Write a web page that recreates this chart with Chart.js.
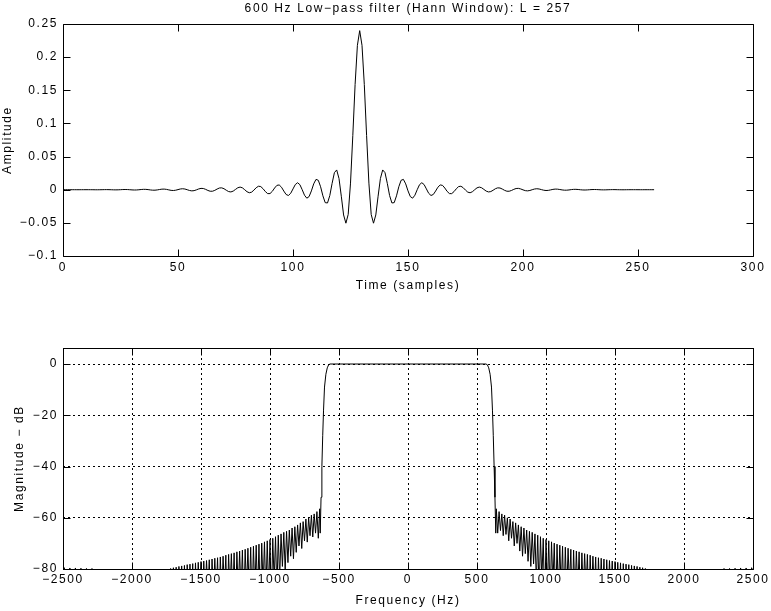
<!DOCTYPE html>
<html>
<head>
<meta charset="utf-8">
<script src="https://cdn.jsdelivr.net/npm/chart.js@4.4.1/dist/chart.umd.min.js"></script>
<style>
html,body{margin:0;padding:0;background:#fff;}
#wrap{position:relative;width:771px;height:611px;overflow:hidden;background:#fff;}
#c1{position:absolute;left:0;top:0;}
#c2{position:absolute;left:0;top:300px;}
</style>
</head>
<body>
<div id="wrap">
<canvas id="c1" width="771" height="300"></canvas>
<canvas id="c2" width="771" height="311"></canvas>
</div>
<script>
// ---------------- data ----------------
const titleText = '600 Hz Low\u2212pass filter (Hann Window): L = 257';
const firstSample = 0;
const impulseAmplitude = [
  0,
  0, 0, 0, 0, 0, -0.00001, -0.00001, 0,
  0.00002, 0.00004, 0.00004, 0.00001, -0.00003, -0.00008, -0.00008, -0.00004, 0.00004, 0.00012,
  0.00014, 0.00008, -0.00005, -0.00018, -0.00022, -0.00015, 0.00003, 0.00023, 0.00032, 0.00024,
  0, -0.00028, -0.00044, -0.00037, -0.00006, 0.00032, 0.00057, 0.00052, 0.00016, -0.00034,
  -0.0007, -0.00071, -0.00031, 0.00032, 0.00084, 0.00093, 0.0005, -0.00028, -0.00098, -0.0012,
  -0.00075, 0.00017, 0.00108, 0.00147, 0.00105, 0, -0.00115, -0.00174, -0.00141, -0.00024,
  0.00117, 0.00203, 0.00182, 0.00056, -0.00112, -0.00231, -0.00228, -0.00097, 0.001, 0.00257,
  0.0028, 0.00148, -0.00079, -0.00279, -0.00337, -0.00209, 0.00046, 0.00296, 0.00397, 0.00283,
  0, -0.00304, -0.0046, -0.00369, -0.00062, 0.00303, 0.00525, 0.00469, 0.00143, -0.00288,
  -0.00591, -0.00584, -0.00247, 0.00257, 0.00656, 0.00717, 0.00378, -0.00203, -0.00719, -0.00872,
  -0.00544, 0.00121, 0.00778, 0.01054, 0.00757, 0, -0.00832, -0.01276, -0.01037, -0.00178,
  0.00881, 0.01559, 0.01422, 0.00446, -0.00923, -0.01952, -0.01998, -0.00879, 0.00956, 0.02572,
  0.02983, 0.01684, -0.0098, -0.03811, -0.0505, -0.03728, 0.00995, 0.0816, 0.1587, 0.2178,
  0.24,
  0.2178, 0.1587, 0.0816, 0.00995, -0.03728, -0.0505, -0.03811, -0.0098, 0.01684, 0.02983,
  0.02572, 0.00956, -0.00879, -0.01998, -0.01952, -0.00923, 0.00446, 0.01422, 0.01559, 0.00881,
  -0.00178, -0.01037, -0.01276, -0.00832, 0, 0.00757, 0.01054, 0.00778, 0.00121, -0.00544,
  -0.00872, -0.00719, -0.00203, 0.00378, 0.00717, 0.00656, 0.00257, -0.00247, -0.00584, -0.00591,
  -0.00288, 0.00143, 0.00469, 0.00525, 0.00303, -0.00062, -0.00369, -0.0046, -0.00304, 0,
  0.00283, 0.00397, 0.00296, 0.00046, -0.00209, -0.00337, -0.00279, -0.00079, 0.00148, 0.0028,
  0.00257, 0.001, -0.00097, -0.00228, -0.00231, -0.00112, 0.00056, 0.00182, 0.00203, 0.00117,
  -0.00024, -0.00141, -0.00174, -0.00115, 0, 0.00105, 0.00147, 0.00108, 0.00017, -0.00075,
  -0.0012, -0.00098, -0.00028, 0.0005, 0.00093, 0.00084, 0.00032, -0.00031, -0.00071, -0.0007,
  -0.00034, 0.00016, 0.00052, 0.00057, 0.00032, -0.00006, -0.00037, -0.00044, -0.00028, 0,
  0.00024, 0.00032, 0.00023, 0.00003, -0.00015, -0.00022, -0.00018, -0.00005, 0.00008, 0.00014,
  0.00012, 0.00004, -0.00004, -0.00008, -0.00008, -0.00003, 0.00001, 0.00004, 0.00004, 0.00002,
  0, -0.00001, -0.00001, 0, 0, 0, 0, 0
];
const timeTicks = [0, 50, 100, 150, 200, 250, 300];
const timeTickLabels = ['0', '50', '100', '150', '200', '250', '300'];
const ampTicks = [-0.1, -0.05, 0, 0.05, 0.1, 0.15, 0.2, 0.25];
const ampTickLabels = ['\u22120.1', '\u22120.05', '0', '0.05', '0.1', '0.15', '0.2', '0.25'];

const freqHz = [
  -2500, -2490, -2480, -2450, -2440, -2410, -2400, -2370, -2360, -2330, -2320, -2290, -2280, -2100, -1900, -1780, -1760, -1750,
  -1740, -1730, -1720, -1710, -1700, -1690, -1680, -1670, -1660, -1650,
  -1640, -1630, -1620, -1610, -1600, -1590, -1580, -1570, -1560, -1550,
  -1540, -1530, -1520, -1510, -1500, -1490, -1480, -1470, -1460, -1450,
  -1440, -1430, -1420, -1410, -1400, -1390, -1380, -1370, -1360, -1350,
  -1340, -1330, -1320, -1310, -1300, -1290, -1280, -1270, -1260, -1250,
  -1240, -1230, -1220, -1210, -1200, -1190, -1180, -1170, -1160, -1150,
  -1140, -1130, -1120, -1110, -1100, -1090, -1080, -1070, -1060, -1050,
  -1040, -1030, -1020, -1010, -1000, -990, -980, -970, -960, -950,
  -940, -930, -920, -910, -900, -890, -880, -870, -860, -850,
  -840, -830, -820, -810, -800, -790, -780, -770, -760, -750,
  -740, -730, -720, -710, -700, -690, -680, -670, -660, -650,
  -640,
  -636, -630, -624, -618, -612, -605, -595, -585, -575, -565,
  565,
  575, 585, 595, 605, 612, 618, 624, 630, 636,
  640, 650, 660, 670, 680, 690, 700, 710, 720, 730,
  740, 750, 760, 770, 780, 790, 800, 810, 820, 830,
  840, 850, 860, 870, 880, 890, 900, 910, 920, 930,
  940, 950, 960, 970, 980, 990, 1000, 1010, 1020, 1030,
  1040, 1050, 1060, 1070, 1080, 1090, 1100, 1110, 1120, 1130,
  1140, 1150, 1160, 1170, 1180, 1190, 1200, 1210, 1220, 1230,
  1240, 1250, 1260, 1270, 1280, 1290, 1300, 1310, 1320, 1330,
  1340, 1350, 1360, 1370, 1380, 1390, 1400, 1410, 1420, 1430,
  1440, 1450, 1460, 1470, 1480, 1490, 1500, 1510, 1520, 1530,
  1540, 1550, 1560, 1570, 1580, 1590, 1600, 1610, 1620, 1630,
  1640, 1650, 1660, 1670, 1680, 1690, 1700, 1710, 1720, 1730,
  1740,
  1750, 1760, 1780, 1900, 2100, 2280, 2290, 2320, 2330, 2360, 2370, 2400, 2410, 2440, 2450, 2480, 2490, 2500
];
const magDb = [
  -81, -79.5, -92, -79.6, -93, -79.6, -94, -79.7, -95, -79.8, -96, -79.8, -98, -104, -100, -93, -80.5, -99,
  -80.2, -98, -79.8, -93, -79.5, -92, -79.3, -97, -79, -90,
  -78.8, -93, -78.6, -96, -78.3, -91, -78.1, -90, -77.9, -97,
  -77.6, -91, -77.4, -89, -77.1, -96, -76.9, -90, -76.7, -88,
  -76.4, -97, -76.1, -90, -75.8, -89, -75.6, -96, -75.3, -91,
  -75, -88, -74.6, -97, -74.3, -89, -74, -91, -73.7, -96,
  -73.3, -89, -73, -90, -72.6, -96, -72.3, -88, -71.9, -91,
  -71.5, -94, -71.1, -89, -70.7, -91, -70.3, -95, -69.9, -87,
  -69.4, -91, -69, -89, -68.5, -94, -68, -85, -67.4, -89,
  -66.8, -84, -66.3, -79, -65.7, -80.5, -65.3, -77.5, -64.8, -75,
  -64, -76, -63.5, -73.5, -62.8, -71, -62, -72, -61.5, -69,
  -60.5, -69.5, -60, -67, -59, -67.5, -58.5, -66, -57.6, -68,
  -56.5,
  -66, -52, -40, -28, -18, -9, -4, -1.5, -0.3, 0,
  0,
  -0.3, -1.5, -4, -9, -18, -28, -40, -52, -66,
  -56.5, -66, -57.6, -65, -58.5, -67, -59, -66.5, -60, -69,
  -60.5, -68, -61.5, -71, -62, -70, -62.8, -73, -63.5, -75,
  -64, -74, -64.8, -77, -65.3, -79, -65.7, -78, -66.3, -85,
  -66.8, -90, -67.4, -84, -68, -95, -68.5, -88, -69, -92,
  -69.4, -86, -69.9, -96, -70.3, -90, -70.7, -88, -71.1, -95,
  -71.5, -90, -71.9, -87, -72.3, -97, -72.6, -91, -73, -88,
  -73.3, -95, -73.7, -90, -74, -88, -74.3, -96, -74.6, -90,
  -75, -89, -75.3, -97, -75.6, -91, -75.8, -89, -76.1, -96,
  -76.4, -90, -76.7, -89, -76.9, -97, -77.1, -91, -77.4, -90,
  -77.6, -96, -77.9, -92, -78.1, -90, -78.3, -97, -78.6, -92,
  -78.8, -91, -79, -98, -79.3, -93, -79.5, -92, -79.8, -99,
  -80.2,
  -99, -80.5, -93, -100, -104, -98, -79.8, -96, -79.8, -95, -79.7, -94, -79.6, -93, -79.6, -92, -79.5, -81
];
const freqTicks = [-2500, -2000, -1500, -1000, -500, 0, 500, 1000, 1500, 2000, 2500];
const freqTickLabels = ['\u22122500', '\u22122000', '\u22121500', '\u22121000', '\u2212500', '0', '500', '1000', '1500', '2000', '2500'];
const dbTicks = [-80, -60, -40, -20, 0];
const dbTickLabels = ['\u221280', '\u221260', '\u221240', '\u221220', '0'];

// ---------------- style ----------------
const FONT = {family: "'Liberation Sans', Arial, Helvetica, sans-serif", size: 12, weight: 'normal'};
const LETTER_SPACING = '1.6px';
Chart.defaults.color = '#000';
Chart.defaults.font.family = FONT.family;
Chart.defaults.font.size = FONT.size;

const matlabFrame = {
  id: 'matlabFrame',
  beforeDraw(chart) { chart.ctx.letterSpacing = LETTER_SPACING; },
  afterDatasetsDraw(chart) {
    const {ctx, chartArea: a, scales: {x, y}} = chart;
    const L = Math.floor(a.left) + 0.5, R = Math.floor(a.right) + 0.5;
    const T = Math.floor(a.top) + 0.5, B = Math.floor(a.bottom) + 0.5;
    const tl = 7;
    ctx.save();
    ctx.setLineDash([]);
    ctx.strokeStyle = '#000';
    ctx.lineWidth = 1;
    ctx.beginPath();
    ctx.rect(L, T, R - L, B - T);
    x.ticks.forEach(t => {
      const px = Math.round(x.getPixelForValue(t.value)) + 0.5;
      ctx.moveTo(px, B); ctx.lineTo(px, B - tl);
      ctx.moveTo(px, T); ctx.lineTo(px, T + tl);
    });
    y.ticks.forEach(t => {
      const py = Math.round(y.getPixelForValue(t.value)) + 0.5;
      ctx.moveTo(L, py); ctx.lineTo(L + tl, py);
      ctx.moveTo(R, py); ctx.lineTo(R - tl, py);
    });
    ctx.stroke();
    ctx.restore();
  }
};

const lineStyle = {borderColor: '#000', borderWidth: 1, pointRadius: 0, tension: 0, borderJoinStyle: 'round', fill: false};

// ---------------- top chart: impulse response ----------------
new Chart(document.getElementById('c1'), {
  type: 'line',
  data: {
    datasets: [Object.assign({
      data: impulseAmplitude.map((v, i) => ({x: firstSample + i, y: v}))
    }, lineStyle)]
  },
  options: {
    responsive: false, animation: false, events: [],
    layout: {padding: {left: 0, right: 18, top: 0, bottom: 0}},
    plugins: {legend: {display: false}, tooltip: {enabled: false}, title: {display: false}},
    scales: {
      x: {
        type: 'linear', min: 0, max: 300,
        afterBuildTicks: s => { s.ticks = timeTicks.map(v => ({value: v})); },
        afterFit: s => { s.height = 44; },
        grid: {display: false, drawTicks: false}, border: {display: false},
        ticks: {padding: 4, maxRotation: 0, autoSkip: false, font: FONT, callback: (v, i) => timeTickLabels[i]},
        title: {display: true, text: 'Time (samples)', font: FONT, padding: {top: 0, bottom: 6.8}}
      },
      xTitle: {
        type: 'linear', position: 'top', min: 0, max: 300,
        afterFit: s => { s.height = 24; },
        grid: {display: false, drawTicks: false}, border: {display: false},
        ticks: {display: false},
        title: {display: true, text: titleText, font: FONT, padding: {top: 1.5, bottom: 0}}
      },
      y: {
        type: 'linear', min: -0.1, max: 0.25,
        afterBuildTicks: s => { s.ticks = ampTicks.map(v => ({value: v})); },
        afterFit: s => { s.width = 63; },
        grid: {display: false, drawTicks: false}, border: {display: false},
        ticks: {padding: 5, autoSkip: false, font: FONT, callback: (v, i) => ampTickLabels[i]},
        title: {display: true, text: 'Amplitude', font: FONT, padding: {top: 0.8, bottom: 0}}
      }
    }
  },
  plugins: [matlabFrame]
});

// ---------------- bottom chart: magnitude response ----------------
new Chart(document.getElementById('c2'), {
  type: 'line',
  data: {
    datasets: [Object.assign({
      data: freqHz.map((f, i) => ({x: f, y: magDb[i]}))
    }, lineStyle)]
  },
  options: {
    responsive: false, animation: false, events: [],
    layout: {padding: {left: 0, right: 18, top: 48, bottom: 0}},
    plugins: {legend: {display: false}, tooltip: {enabled: false}, title: {display: false}},
    scales: {
      x: {
        type: 'linear', min: -2500, max: 2500,
        afterBuildTicks: s => { s.ticks = freqTicks.map(v => ({value: v})); },
        afterFit: s => { s.height = 42; },
        grid: {display: true, drawTicks: false, color: '#000', lineWidth: 1},
        border: {display: false, dash: [2, 3]},
        ticks: {padding: 3.8, maxRotation: 0, autoSkip: false, font: FONT, callback: (v, i) => freqTickLabels[i]},
        title: {display: true, text: 'Frequency (Hz)', font: FONT, padding: {top: 0, bottom: 2.8}}
      },
      y: {
        type: 'linear', min: -80, max: 6.244,
        afterBuildTicks: s => { s.ticks = dbTicks.map(v => ({value: v})); },
        afterFit: s => { s.width = 63; },
        grid: {display: true, drawTicks: false, color: '#000', lineWidth: 1},
        border: {display: false, dash: [2, 3]},
        ticks: {padding: 5, autoSkip: false, font: FONT, callback: (v, i) => dbTickLabels[i]},
        title: {display: true, text: 'Magnitude \u2212 dB', font: FONT, padding: {top: 12.8, bottom: 0}}
      }
    }
  },
  plugins: [matlabFrame]
});
</script>
</body>
</html>
